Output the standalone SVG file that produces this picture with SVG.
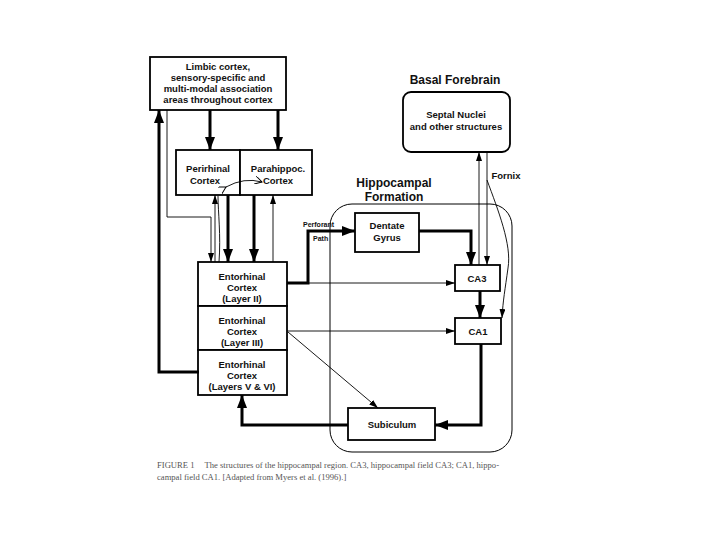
<svg xmlns="http://www.w3.org/2000/svg" width="720" height="540" viewBox="0 0 720 540">
<defs>
<marker id="big" markerUnits="userSpaceOnUse" markerWidth="14" markerHeight="10" refX="13" refY="5" orient="auto"><path d="M0,0 L13,5 L0,10 z" fill="#000"/></marker>
<marker id="sm" markerUnits="userSpaceOnUse" markerWidth="9" markerHeight="6" refX="9" refY="3" orient="auto"><path d="M0,0 L9,3 L0,6 z" fill="#000"/></marker>
<marker id="op" markerUnits="userSpaceOnUse" markerWidth="8" markerHeight="8" refX="7" refY="4" orient="auto"><path d="M0,0 L7,4 L0,8" fill="none" stroke="#000" stroke-width="1"/></marker>
</defs>
<style>
.box{fill:#fff;stroke:#000;stroke-width:1.8}
.t{font-family:"Liberation Sans",Arial,sans-serif;font-weight:bold;font-size:9.5px;text-anchor:middle;fill:#111}
.h{font-family:"Liberation Sans",Arial,sans-serif;font-weight:bold;font-size:12px;text-anchor:middle;fill:#111}
.s{font-family:"Liberation Sans",Arial,sans-serif;font-weight:bold;font-size:7px;fill:#111}
.thick{fill:none;stroke:#000;stroke-width:3}
.thin{fill:none;stroke:#000;stroke-width:0.9}
.cap{font-family:"Liberation Serif","Times New Roman",serif;font-size:8.6px;fill:#555}
</style>
<rect width="720" height="540" fill="#fff"/>
<g id="hippocampal-formation">
<rect x="330" y="204" width="182" height="248" rx="22" fill="none" stroke="#000" stroke-width="1"/>
<text class="h" x="394" y="187">Hippocampal</text>
<text class="h" x="394" y="201">Formation</text>
</g>
<g id="basal-forebrain-title"><text class="h" x="455" y="84">Basal Forebrain</text></g>
<g id="limbic">
<rect class="box" x="150" y="57" width="136" height="53"/>
<text class="t" x="218" y="70">Limbic cortex,</text>
<text class="t" x="218" y="81">sensory-specific and</text>
<text class="t" x="218" y="92">multi-modal association</text>
<text class="t" x="218" y="103">areas throughout cortex</text>
</g>
<g id="perirhinal">
<rect class="box" x="176" y="150" width="64" height="45"/>
<text class="t" x="208" y="172">Perirhinal</text>
<text class="t" x="205" y="184">Cortex</text>
</g>
<g id="parahippoc">
<rect class="box" x="240" y="150" width="72" height="45"/>
<text class="t" x="278" y="172">Parahippoc.</text>
<text class="t" x="278" y="184">Cortex</text>
</g>
<g id="septal">
<rect class="box" x="403" y="92" width="107" height="60" rx="8"/>
<text class="t" x="456" y="118">Septal Nuclei</text>
<text class="t" x="456" y="130">and other structures</text>
</g>
<g id="dentate">
<rect class="box" x="355" y="213" width="64" height="39"/>
<text class="t" x="387" y="229">Dentate</text>
<text class="t" x="387" y="241">Gyrus</text>
</g>
<g id="ca3">
<rect class="box" x="455" y="265" width="45" height="26"/>
<text class="t" x="477" y="282">CA3</text>
</g>
<g id="ca1">
<rect class="box" x="455" y="318" width="46" height="26"/>
<text class="t" x="478" y="335">CA1</text>
</g>
<g id="subiculum">
<rect class="box" x="348" y="408" width="87" height="32"/>
<text class="t" x="392" y="428">Subiculum</text>
</g>
<g id="ec-layer2">
<rect class="box" x="198" y="262" width="89" height="44"/>
<text class="t" x="242" y="280">Entorhinal</text>
<text class="t" x="242" y="291">Cortex</text>
<text class="t" x="242" y="302">(Layer II)</text>
</g>
<g id="ec-layer3">
<rect class="box" x="198" y="306" width="89" height="44"/>
<text class="t" x="242" y="324">Entorhinal</text>
<text class="t" x="242" y="335">Cortex</text>
<text class="t" x="242" y="346">(Layer III)</text>
</g>
<g id="ec-layer56">
<rect class="box" x="198" y="350" width="89" height="45"/>
<text class="t" x="242" y="368">Entorhinal</text>
<text class="t" x="242" y="379">Cortex</text>
<text class="t" x="242" y="390" font-weight="normal">(Layers V &amp; VI)</text>
</g>
<g id="connectors">
<path class="thick" d="M210,110 V150" marker-end="url(#big)"/>
<path class="thick" d="M278,110 V150" marker-end="url(#big)"/>
<path class="thick" d="M199,372 H159 V110" marker-end="url(#big)"/>
<path class="thin" d="M167,110 V217 H211 V262" marker-end="url(#sm)"/>
<path class="thin" d="M215,262 V195" marker-end="url(#sm)"/>
<path class="thin" d="M219,262 C221,235 218,212 218,196"/>
<path class="thick" d="M228,195 V262" marker-end="url(#big)"/>
<path class="thick" d="M254,195 V262" marker-end="url(#big)"/>
<path class="thin" d="M273,262 V195" marker-end="url(#sm)"/>
<path class="thin" d="M226,187 Q244,177 262,182" marker-start="url(#op)" marker-end="url(#op)"/>
<path class="thick" d="M287,283 H308 V231 H355" marker-end="url(#big)"/>
<path class="thick" d="M419,231 H471 V265" marker-end="url(#big)"/>
<path class="thin" d="M287,283 H455" marker-end="url(#sm)"/>
<path class="thick" d="M480,291 V318" marker-end="url(#big)"/>
<path class="thin" d="M479,265 V152" marker-end="url(#sm)"/>
<path class="thin" d="M487,152 V265" marker-end="url(#sm)"/>
<path class="thin" d="M487,180 C498,210 512,245 508,268 C505,290 503,300 502,318" marker-end="url(#sm)"/>
<path class="thin" d="M287,331 H455" marker-end="url(#sm)"/>
<path class="thin" d="M288,332 L378,408" marker-end="url(#sm)"/>
<path class="thick" d="M481,344 V425 H435" marker-end="url(#big)"/>
<path class="thick" d="M348,425 H242 V395" marker-end="url(#big)"/>
<text class="s" x="303" y="227">Perforant</text>
<text class="s" x="313" y="241">Path</text>
<text class="t" x="506" y="179">Fornix</text>
</g>
<g id="caption">
<text class="cap" x="157" y="468">FIGURE 1<tspan dx="10">The structures of the hippocampal region. CA3, hippocampal field CA3; CA1, hippo-</tspan></text>
<text class="cap" x="157" y="480">campal field CA1. [Adapted from Myers et al. (1996).]</text>
</g>
</svg>
